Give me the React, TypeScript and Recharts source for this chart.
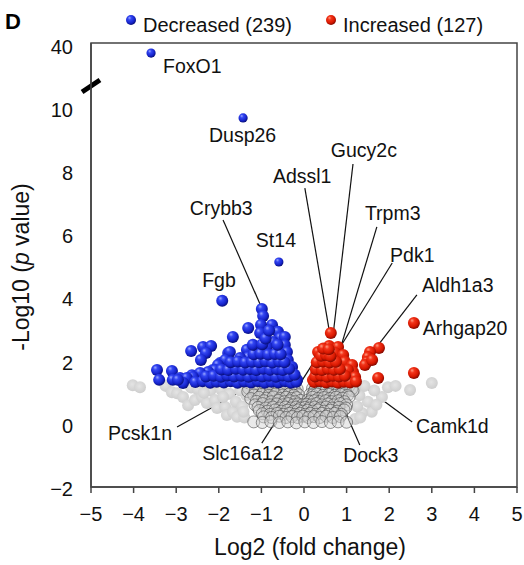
import React from 'react'
import { ScatterChart, Scatter, XAxis, YAxis, ReferenceLine, ReferenceArea } from 'recharts'

// log2 fold change, -log10 p value
const decreasedPts: [number, number][] = [
  [-1.92, 3.89], [-2.65, 2.3], [-2.37, 2.43], [-2.18, 2.46], [-2.3, 2.24], [-2.42, 2.02],
  [-3.45, 1.7], [-3.4, 1.39], [-3.1, 1.67], [-2.91, 1.45], [-2.63, 1.54], [-2.39, 1.54],
  [-2.25, 1.39], [-2.84, 1.39], [-3.08, 1.39], [-1.78, 2.24], [-1.97, 1.92], [-2.14, 1.7],
  [-2.02, 1.48], [-0.99, 3.63], [-0.96, 3.41], [-0.75, 3.13], [-1.31, 3.03], [-1.67, 2.75],
  [-1.01, 3.13], [-1.03, 2.87], [-0.61, 2.91], [-0.56, 2.72], [-0.45, 2.75], [-0.73, 2.59],
  [-0.45, 2.49], [-0.4, 2.27], [-0.38, 2.02], [-0.28, 1.8], [-0.26, 1.48], [-0.16, 1.39],
  [-0.87, 2.43], [-0.92, 2.18], [-1.1, 2.34], [-1.15, 2.08], [-1.34, 2.34], [-1.31, 2.11],
  [-1.74, 2.27], [-1.5, 2.08], [-1.62, 1.92], [-1.85, 2.02], [-2.02, 1.86], [-2.09, 1.7],
  [-2.25, 1.64], [-2.44, 1.61], [-2.61, 1.48], [-2.75, 1.45], [-2.84, 1.29], [-2.96, 1.39],
  [-2.55, 1.32], [-2.38, 1.35], [-2.2, 1.3], [-2.05, 1.33], [-1.88, 1.31], [-1.72, 1.35],
  [-1.56, 1.3], [-1.4, 1.34], [-1.24, 1.31], [-1.08, 1.35], [-0.92, 1.3], [-0.76, 1.33],
  [-0.6, 1.31], [-0.44, 1.35], [-0.3, 1.3], [-0.18, 1.33],
  [-2.3, 1.5], [-2.12, 1.52], [-1.95, 1.49], [-1.8, 1.53], [-1.64, 1.5], [-1.47, 1.52],
  [-1.3, 1.49], [-1.14, 1.53], [-0.98, 1.5], [-0.82, 1.52], [-0.66, 1.49], [-0.5, 1.53],
  [-0.36, 1.5], [-0.22, 1.55],
  [-1.94, 1.72], [-1.78, 1.7], [-1.6, 1.74], [-1.43, 1.71], [-1.27, 1.73], [-1.12, 1.7],
  [-0.96, 1.74], [-0.8, 1.71], [-0.64, 1.73], [-0.5, 1.7], [-0.35, 1.74],
  [-1.72, 1.95], [-1.55, 1.97], [-1.38, 1.94], [-1.22, 1.96], [-1.05, 1.95], [-0.9, 1.98],
  [-0.74, 1.94], [-0.58, 1.97], [-0.46, 1.95],
  [-1.18, 2.2], [-1.02, 2.22], [-0.84, 2.19], [-0.68, 2.21], [-0.55, 2.2],
  [-1.2, 2.5], [-0.98, 2.52], [-0.62, 2.5], [-0.9, 2.7], [-0.82, 2.95],
]
// FoxO1, Dusp26, St14
const decreasedNamed: [number, number][] = [[-3.59, 34.7], [-1.43, 9.68], [-0.59, 5.12]]

const increasedPts: [number, number][] = [
  [0.63, 2.87], [0.33, 2.27], [0.59, 2.46], [0.8, 2.43], [0.73, 2.24], [0.92, 2.18],
  [0.96, 1.96], [1.13, 1.86], [1.15, 1.64], [1.03, 1.7], [0.89, 1.54], [0.77, 1.61],
  [1.2, 1.48], [1.76, 2.4], [1.55, 2.27], [1.5, 2.11], [1.48, 1.96], [1.43, 1.86],
  [1.6, 2.02], [1.74, 1.45], [2.58, 3.19], [2.58, 1.61], [0.21, 1.39],
  [0.24, 1.32], [0.38, 1.35], [0.52, 1.31], [0.66, 1.34], [0.8, 1.3], [0.94, 1.33],
  [1.08, 1.31], [1.22, 1.34],
  [0.26, 1.5], [0.4, 1.53], [0.54, 1.49], [0.68, 1.52], [0.82, 1.5], [0.96, 1.52],
  [0.28, 1.72], [0.42, 1.7], [0.56, 1.74], [0.7, 1.71], [0.84, 1.73],
  [0.3, 1.95], [0.45, 1.97], [0.6, 1.94], [0.75, 1.96],
  [0.4, 2.15], [0.52, 2.18], [0.62, 2.14], [0.45, 2.38], [0.58, 2.36],
]

// not significant, inner dense cone
const greyCore: [number, number][] = [
  [-1.22, 1.22], [-1.05, 1.25], [-0.88, 1.2], [-0.7, 1.24], [-0.53, 1.21], [-0.38, 1.25],
  [-0.24, 1.18], [-0.16, 1.1], [0.2, 1.12], [0.3, 1.22], [0.45, 1.2], [0.6, 1.25],
  [0.75, 1.21], [0.9, 1.24], [1.05, 1.18],
  [-1.3, 1.12], [-1.13, 1.14], [-0.96, 1.11], [-0.8, 1.15], [-0.63, 1.12], [-0.46, 1.14],
  [-0.31, 1.1], [0.26, 1.1], [0.38, 1.13], [0.52, 1.11], [0.67, 1.14], [0.82, 1.11],
  [0.98, 1.13], [1.12, 1.1],
  [-1.32, 1.02], [-1.14, 1.05], [-0.96, 1.0], [-0.79, 1.04], [-0.62, 1.01], [-0.46, 1.05],
  [-0.32, 0.98], [-0.2, 1.03], [-0.13, 0.92], [0.14, 0.93], [0.24, 1.03], [0.38, 1.0],
  [0.52, 1.04], [0.67, 1.0], [0.82, 1.03], [0.98, 0.99], [1.15, 1.05],
  [-1.18, 0.91], [-0.99, 0.93], [-0.83, 0.9], [-0.67, 0.94], [-0.5, 0.91], [-0.36, 0.93],
  [-0.24, 0.9], [0.2, 0.91], [0.3, 0.94], [0.44, 0.9], [0.58, 0.93], [0.72, 0.9],
  [0.86, 0.93], [1.02, 0.9],
  [-1.25, 0.8], [-1.06, 0.84], [-0.88, 0.81], [-0.72, 0.85], [-0.56, 0.8], [-0.42, 0.84],
  [-0.29, 0.8], [-0.17, 0.83], [-0.08, 0.74], [0.09, 0.75], [0.2, 0.84], [0.33, 0.8],
  [0.47, 0.83], [0.61, 0.8], [0.75, 0.84], [0.9, 0.81], [1.06, 0.85],
  [-1.12, 0.71], [-0.94, 0.73], [-0.77, 0.7], [-0.6, 0.74], [-0.46, 0.7], [-0.33, 0.73],
  [-0.21, 0.7], [0.13, 0.7], [0.24, 0.73], [0.37, 0.7], [0.51, 0.73], [0.65, 0.7],
  [0.8, 0.73], [0.95, 0.7],
  [-1.15, 0.6], [-0.97, 0.64], [-0.8, 0.6], [-0.64, 0.63], [-0.5, 0.6], [-0.37, 0.64],
  [-0.25, 0.6], [-0.14, 0.63], [-0.04, 0.6], [0.06, 0.62], [0.17, 0.6], [0.29, 0.64],
  [0.42, 0.6], [0.56, 0.63], [0.7, 0.6], [0.85, 0.64], [1.0, 0.6],
  [-1.08, 0.52], [-0.9, 0.5], [-0.73, 0.53], [-0.57, 0.5], [-0.44, 0.53], [-0.31, 0.5],
  [-0.19, 0.53], [-0.08, 0.5], [0.02, 0.52], [0.13, 0.5], [0.25, 0.53], [0.38, 0.5],
  [0.52, 0.53], [0.66, 0.5], [0.82, 0.52], [0.98, 0.5],
  [-1.05, 0.42], [-0.86, 0.4], [-0.68, 0.44], [-0.53, 0.4], [-0.39, 0.43], [-0.26, 0.4],
  [-0.14, 0.44], [-0.03, 0.4], [0.08, 0.43], [0.2, 0.4], [0.33, 0.44], [0.47, 0.4],
  [0.62, 0.43], [0.78, 0.4], [0.94, 0.44],
  [-0.98, 0.32], [-0.8, 0.3], [-0.63, 0.33], [-0.48, 0.3], [-0.34, 0.33], [-0.21, 0.3],
  [-0.09, 0.33], [0.03, 0.3], [0.15, 0.33], [0.28, 0.3], [0.42, 0.33], [0.57, 0.3],
  [0.72, 0.33], [0.88, 0.3],
  [-0.95, 0.22], [-0.76, 0.2], [-0.58, 0.24], [-0.42, 0.2], [-0.28, 0.23], [-0.15, 0.2],
  [-0.03, 0.24], [0.1, 0.2], [0.23, 0.23], [0.37, 0.2], [0.52, 0.24], [0.68, 0.2], [0.85, 0.23],
  [-1.18, 0.06], [-0.98, 0.04], [-0.78, 0.07], [-0.58, 0.04], [-0.38, 0.06], [-0.18, 0.03],
  [0.02, 0.06], [0.22, 0.04], [0.42, 0.07], [0.62, 0.04], [0.8, 0.06], [1.0, 0.05],
]

// not significant, scattered outside the cone
const greyOuter: [number, number][] = [
  [-4.02, 1.22], [-3.85, 1.16], [-3.25, 1.2], [-3.1, 1.0], [-2.98, 0.97], [-2.84, 0.85],
  [-2.72, 0.59], [-2.65, 1.15], [-2.56, 0.75], [-2.5, 1.1], [-2.39, 0.85], [-2.28, 0.66],
  [-2.2, 1.05], [-2.09, 0.75], [-2.04, 0.5], [-1.95, 1.1], [-1.85, 0.53], [-1.81, 0.28],
  [-1.75, 0.95], [-1.67, 0.37], [-1.6, 0.7], [-1.57, 0.22], [-1.45, 0.55], [-1.4, 0.2],
  [-1.35, 0.9], [-1.5, 1.05], [-1.42, 0.38], [-2.35, 0.98], [-1.9, 0.85],
  [1.97, 1.16], [2.49, 1.07], [3.0, 1.29], [1.83, 0.85], [1.59, 0.38], [1.36, 0.34],
  [1.2, 0.15], [1.5, 0.7], [1.3, 0.9], [1.65, 1.05], [1.25, 0.55], [1.42, 1.2],
  [1.7, 0.6], [1.2, 1.1], [2.15, 1.2], [1.32, 0.2],
]

const xTicks = [-5, -4, -3, -2, -1, 0, 1, 2, 3, 4, 5]
const yTicks = [-2, 0, 2, 4, 6, 8, 10, 12] // 12 carries the "40" above the axis break

// gene labels: text anchor (left, baseline) in axis units
const geneLabels = [
  { name: 'FoxO1', x: -3.31, y: 11.1 },
  { name: 'Dusp26', x: -2.23, y: 8.92 },
  { name: 'Gucy2c', x: 0.63, y: 8.44 },
  { name: 'Adssl1', x: -0.73, y: 7.62 },
  { name: 'Crybb3', x: -2.68, y: 6.61 },
  { name: 'Trpm3', x: 1.43, y: 6.45 },
  { name: 'St14', x: -1.13, y: 5.59 },
  { name: 'Pdk1', x: 2.02, y: 5.12 },
  { name: 'Fgb', x: -2.39, y: 4.33 },
  { name: 'Aldh1a3', x: 2.77, y: 4.17 },
  { name: 'Arhgap20', x: 2.79, y: 2.81 },
  { name: 'Pcsk1n', x: -4.6, y: -0.51 },
  { name: 'Slc16a12', x: -2.39, y: -1.15 },
  { name: 'Dock3', x: 0.92, y: -1.21 },
  { name: 'Camk1d', x: 2.63, y: -0.29 },
]

// leader lines: [x1, y1, x2, y2]
const leaders: [number, number, number, number][] = [
  [-1.9, 6.45, -0.99, 3.66],
  [0.02, 7.46, 0.59, 2.97],
  [1.15, 8.22, 0.68, 2.78],
  [1.71, 6.23, 0.87, 2.46],
  [2.07, 5.09, 0.75, 2.21],
  [2.65, 4.08, 1.78, 2.56],
  [-2.98, -0.1, -0.99, 1.39],
  [-0.99, -0.61, 0.38, 2.27],
  [1.31, -0.67, 0.61, 1.48],
  [2.54, 0.06, 0.73, 1.86],
]

const BREAK_AT = 10.5
const TOP_REAL = 40
const TOP_SHOWN = 12
const squash = (v: number) =>
  v <= BREAK_AT ? v : BREAK_AT + ((v - BREAK_AT) * (TOP_SHOWN - BREAK_AT)) / (TOP_REAL - BREAK_AT)

const toRows = (pts: [number, number][]) => pts.map(([x, y]) => ({ x, y: squash(y) }))

const minus = (v: number) => (v < 0 ? `\u2212${-v}` : `${v}`)
const FONT = '"Liberation Sans", Arial, Helvetica, sans-serif'

const ball = (fill: string, r: number) => (p: any) =>
  p.cx == null ? <g /> : <circle cx={p.cx} cy={p.cy} r={r} fill={fill} />

const greyBall = (p: any) =>
  p.cx == null ? <g /> : (
    <circle cx={p.cx} cy={p.cy} r={6} fill="#d0d0d0" fillOpacity={0.45} stroke="#3a3a3a" strokeOpacity={0.7} strokeWidth={0.75} />
  )

const geneText = (p: any) =>
  p.cx == null ? <g /> : (
    <text x={p.cx} y={p.cy} fontSize={19.5} fill="#111" fontFamily={FONT}>
      {p.payload.name}
    </text>
  )

const YTick = (p: any) => (
  <text x={p.x} y={p.y} dy={9} textAnchor="end" fontSize={20} fill="#111" fontFamily={FONT}>
    {p.payload.value === 12 ? '40' : minus(p.payload.value)}
  </text>
)

export default function App() {
  return (
    <div style={{ position: 'absolute', left: 0, top: 0, width: 524, height: 565, background: '#fff' }}>
      <ScatterChart width={524} height={565} margin={{ top: 43, right: 7, bottom: 18, left: 0 }} style={{ fontFamily: FONT }}>
        <XAxis
          type="number"
          dataKey="x"
          domain={[-5, 5]}
          ticks={xTicks}
          tickFormatter={minus}
          height={60}
          tickSize={6}
          tickMargin={14}
          axisLine={{ stroke: '#444', strokeWidth: 1.5 }}
          tickLine={{ stroke: '#444', strokeWidth: 1.5 }}
          tick={{ fontSize: 20, fill: '#111' }}
          allowDataOverflow
        />
        <YAxis
          type="number"
          dataKey="y"
          domain={[-2, 12.05]}
          ticks={yTicks}
          width={91}
          tickSize={0}
          tickMargin={18}
          tickLine={false}
          axisLine={{ stroke: '#444', strokeWidth: 1.5 }}
          tick={<YTick />}
          allowDataOverflow
        />
        <ReferenceArea x1={-5} x2={5} y1={-2} y2={12.05} fill="none" stroke="#444" strokeWidth={1.5} ifOverflow="visible" />
        <Scatter data={toRows(greyOuter)} shape={ball('url(#greyBall)', 6)} isAnimationActive={false} />
        <Scatter data={toRows(greyCore)} shape={greyBall} isAnimationActive={false} />
        <Scatter data={toRows(decreasedPts)} shape={ball('url(#blueBall)', 6)} isAnimationActive={false} />
        <Scatter data={toRows(decreasedNamed)} shape={ball('url(#blueBall)', 4.6)} isAnimationActive={false} />
        <Scatter data={toRows(increasedPts)} shape={ball('url(#redBall)', 6)} isAnimationActive={false} />
        {leaders.map(([x1, y1, x2, y2], i) => (
          <ReferenceLine
            key={i}
            segment={[{ x: x1, y: y1 }, { x: x2, y: y2 }]}
            stroke="#111"
            strokeWidth={1.2}
            ifOverflow="visible"
          />
        ))}
        <ReferenceLine
          segment={[{ x: -5.21, y: 10.5 }, { x: -4.79, y: 10.88 }]}
          stroke="#000"
          strokeWidth={5}
          ifOverflow="visible"
        />
        <Scatter data={geneLabels} shape={geneText} isAnimationActive={false} />
      </ScatterChart>

      <svg width={524} height={565} style={{ position: 'absolute', left: 0, top: 0, pointerEvents: 'none' }} fontFamily={FONT}>
        <defs>
          <radialGradient id="blueBall" cx="0.42" cy="0.38" r="0.62" fx="0.34" fy="0.28">
            <stop offset="0" stopColor="#9aa6ff" />
            <stop offset="0.3" stopColor="#3346f2" />
            <stop offset="0.72" stopColor="#1624cc" />
            <stop offset="1" stopColor="#080e78" />
          </radialGradient>
          <radialGradient id="redBall" cx="0.42" cy="0.38" r="0.62" fx="0.34" fy="0.28">
            <stop offset="0" stopColor="#ff9a80" />
            <stop offset="0.3" stopColor="#f2341a" />
            <stop offset="0.72" stopColor="#d81800" />
            <stop offset="1" stopColor="#820900" />
          </radialGradient>
          <radialGradient id="greyBall" cx="0.45" cy="0.42" r="0.6">
            <stop offset="0" stopColor="#e4e4e4" />
            <stop offset="1" stopColor="#cdcdcd" />
          </radialGradient>
        </defs>
        <text x={5} y={29} fontSize={22} fontWeight="bold" fill="#000">D</text>
        <circle cx={131} cy={20} r={5} fill="url(#blueBall)" />
        <text x={143} y={31.5} fontSize={20} fill="#111">Decreased (239)</text>
        <circle cx={331} cy={20} r={5} fill="url(#redBall)" />
        <text x={343} y={31.5} fontSize={20} fill="#111">Increased (127)</text>
        <text x={310} y={555} fontSize={23} textAnchor="middle" fill="#111">Log2 (fold change)</text>
        <text transform="translate(29,267) rotate(-90)" fontSize={23} textAnchor="middle" fill="#111">
          -Log10 (<tspan fontStyle="italic">p</tspan> value)
        </text>
      </svg>
    </div>
  )
}
